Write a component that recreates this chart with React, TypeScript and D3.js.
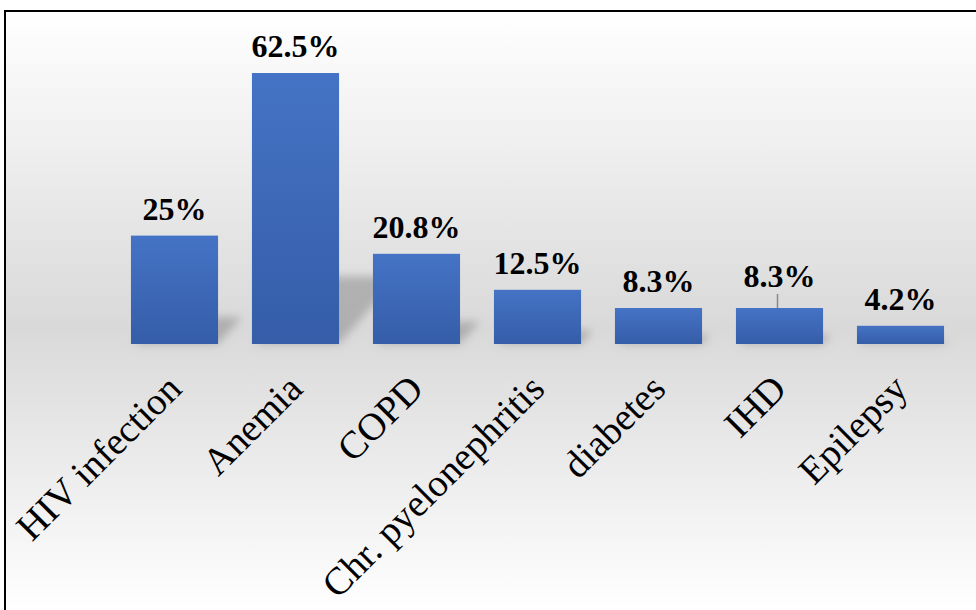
import React from "react";
import * as d3 from "d3";

const categories = ["HIV infection", "Anemia", "COPD", "Chr. pyelonephritis", "diabetes", "IHD", "Epilepsy"];
const values = [25, 62.5, 20.8, 12.5, 8.3, 8.3, 4.2];
const valueLabels = ["25%", "62.5%", "20.8%", "12.5%", "8.3%", "8.3%", "4.2%"];
const leaderLineCategories = ["IHD"];

const W = 976;
const H = 610;
const BASE = 344;

export default function App() {
  const x = d3.scaleBand<string>().domain(categories).range([114, 961]).paddingInner(0.28).paddingOuter(0.14);
  const y = d3.scaleLinear().domain([0, 70]).range([BASE, 40.5]);
  const bw = x.bandwidth();

  const shadowPath = (i: number) => {
    const x0 = x(categories[i])!;
    const x1 = x0 + bw;
    const h = BASE - y(values[i]);
    const sy = h * 0.25;
    const sx = h * 0.22;
    const p = d3.path();
    p.moveTo(x0 + 4, BASE);
    p.lineTo(x1, BASE);
    p.lineTo(x1 + sx, BASE - sy);
    p.lineTo(x0 + sx, BASE - sy);
    p.closePath();
    return p.toString();
  };

  return (
    <svg width={W} height={H} style={{ position: "absolute", left: 0, top: 0 }} xmlns="http://www.w3.org/2000/svg">
      <defs>
        <linearGradient id="bg" gradientUnits="userSpaceOnUse" x1="0" y1="11" x2="0" y2="610">
          <stop offset="0" stopColor="#ffffff" />
          <stop offset="0.53" stopColor="#d9d9d9" />
          <stop offset="1" stopColor="#ffffff" />
        </linearGradient>
        <linearGradient id="bar" x1="0" y1="0" x2="0" y2="1">
          <stop offset="0" stopColor="#4573c5" />
          <stop offset="1" stopColor="#355da8" />
        </linearGradient>
        <filter id="blur" x="-50%" y="-50%" width="200%" height="200%">
          <feGaussianBlur stdDeviation="4" />
        </filter>
      </defs>
      <rect x={0} y={0} width={W} height={H} fill="#ffffff" />
      <rect x={5} y={11} width={W + 20} height={H + 20} fill="url(#bg)" stroke="#000" strokeWidth={2} />
      <g filter="url(#blur)">
        {categories.map((c, i) => (
          <path key={c} d={shadowPath(i)} fill="#8c8c8c" opacity={0.55} />
        ))}
      </g>
      {categories.map((c, i) => (
        <rect key={c} x={x(c)} y={y(values[i])} width={bw} height={BASE - y(values[i])} fill="url(#bar)" />
      ))}
      {categories.map((c, i) => {
        const extra = leaderLineCategories.includes(c) ? 5 : 0;
        return (
          <text
            key={c}
            x={x(c)! + bw / 2}
            y={y(values[i]) - 16 - extra}
            textAnchor="middle"
            fontFamily="'Liberation Serif', 'Times New Roman', serif"
            fontWeight="bold"
            fontSize={32}
            fill="#000"
          >
            {valueLabels[i]}
          </text>
        );
      })}
      {categories.map((c, i) =>
        leaderLineCategories.includes(c) ? (
          <line
            key={c}
            x1={x(c)! + bw / 2 - 2}
            x2={x(c)! + bw / 2 - 2}
            y1={y(values[i]) - 14}
            y2={y(values[i])}
            stroke="#888"
            strokeWidth={1.5}
          />
        ) : null
      )}
      {categories.map((c) => {
        const cx = x(c)! + bw / 2 + 9;
        const cy = 391;
        return (
          <text
            key={c}
            transform={`translate(${cx},${cy}) rotate(-45)`}
            textAnchor="end"
            fontFamily="'Liberation Serif', 'Times New Roman', serif"
            fontSize={38.5}
            fill="#000"
          >
            {c}
          </text>
        );
      })}
    </svg>
  );
}
